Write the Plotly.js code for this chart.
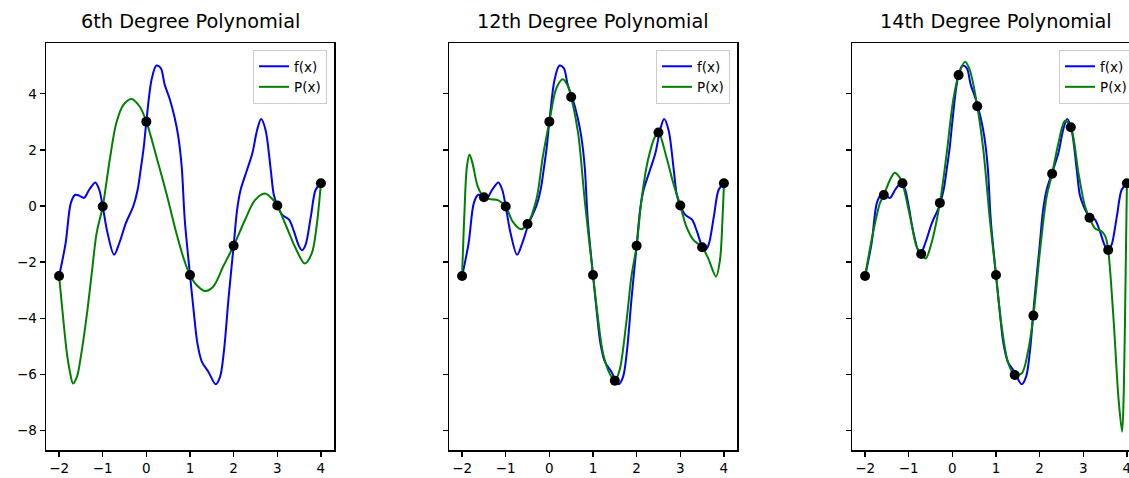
<!DOCTYPE html>
<html>
<head>
<meta charset="utf-8">
<script src="https://cdn.plot.ly/plotly-3.0.1.min.js"></script>
<style>
  html, body { margin: 0; padding: 0; overflow: hidden; background: #fff; }
  #chart { width: 1160px; height: 478px; }
</style>
</head>
<body>
<div id="chart"></div>
<script>
// Target function f(x), sampled along [-2, 4]
const fX = [-2, -1.85, -1.73, -1.63, -1.54, -1.43, -1.31, -1.17, -1.08, -1.0, -0.89, -0.74, -0.62, -0.47, -0.30, -0.20, -0.13, -0.06, 0.0,
            0.12, 0.23, 0.33, 0.42, 0.54, 0.65, 0.73, 0.81, 0.88, 1.0, 1.09, 1.17, 1.27, 1.42, 1.59, 1.69, 1.78, 1.88, 2.0,
            2.08, 2.16, 2.31, 2.43, 2.54, 2.63, 2.73, 2.85, 2.92, 3.0, 3.11, 3.27, 3.38, 3.50, 3.57, 3.65, 3.77, 3.88, 4.0];
const fY = [-2.5, -1.32, 0.11, 0.40, 0.37, 0.29, 0.58, 0.84, 0.58, -0.02, -0.96, -1.74, -1.32, -0.61, -0.01, 0.58, 1.30, 2.1, 3.01,
            4.51, 5.01, 4.92, 4.33, 3.79, 3.14, 2.49, 1.4, -0.49, -2.46, -3.83, -4.90, -5.55, -5.91, -6.36, -6.09, -5.14, -3.35, -1.42,
            -0.13, 0.58, 1.30, 1.89, 2.72, 3.10, 2.72, 1.30, 0.40, 0.02, -0.31, -0.49, -0.90, -1.44, -1.58, -1.38, -0.37, 0.58, 0.81];

// Interpolation nodes for each polynomial
const n6X = [-2, -1, 0, 1, 2, 3, 4];
const n6Y = [-2.5, -0.02, 3.01, -2.46, -1.42, 0.02, 0.81];

const n12X = [-2, -1.5, -1, -0.5, 0, 0.5, 1, 1.5, 2, 2.5, 3, 3.5, 4];
const n12Y = [-2.5, 0.31, -0.02, -0.64, 3.01, 3.89, -2.46, -6.23, -1.42, 2.62, 0.02, -1.47, 0.81];

const n14X = [-2, -1.571, -1.143, -0.714, -0.286, 0.143, 0.571, 1, 1.429, 1.857, 2.286, 2.714, 3.143, 3.571, 4];
const n14Y = [-2.5, 0.39, 0.81, -1.71, 0.11, 4.67, 3.56, -2.46, -6.03, -3.91, 1.15, 2.81, -0.42, -1.57, 0.81];

// Interpolating polynomials P(x)
const p6X = [-2, -1.91, -1.83, -1.76, -1.68, -1.59, -1.49, -1.37, -1.26, -1.14, -1.0, -0.84, -0.69, -0.53, -0.34, -0.15, 0.0,
             0.23, 0.46, 0.69, 0.88, 1.0, 1.15, 1.34, 1.53, 1.76, 2.0, 2.26, 2.49, 2.72, 2.91, 3.0, 3.21, 3.44, 3.63, 3.79, 3.90, 4.0];
const p6Y = [-2.5, -3.95, -5.14, -5.85, -6.33, -6.09, -5.26, -3.95, -2.52, -0.97, -0.02, 1.64, 2.95, 3.60, 3.82, 3.54, 3.01,
             1.76, 0.45, -0.98, -1.99, -2.46, -2.82, -3.03, -2.88, -2.16, -1.42, -0.50, 0.21, 0.45, 0.21, 0.02, -0.74, -1.57, -2.05, -1.69, -0.74, 0.81];

const p12X = [-2, -1.95, -1.89, -1.83, -1.76, -1.64, -1.5, -1.33, -1.18, -1.0, -0.84, -0.65, -0.5, -0.30, -0.15, 0.0, 0.16, 0.31, 0.43, 0.5,
              0.66, 0.81, 1.0, 1.11, 1.23, 1.38, 1.5, 1.61, 1.77, 1.88, 2.0, 2.11, 2.26, 2.42, 2.5, 2.68, 2.84, 3.0, 3.14, 3.30, 3.5,
              3.64, 3.82, 3.91, 3.97, 4.0];
const p12Y = [-2.5, -0.38, 1.40, 1.84, 1.52, 0.69, 0.31, 0.24, 0.21, -0.02, -0.56, -0.83, -0.64, 0.21, 1.76, 3.01, 4.20, 4.52, 4.26, 3.89,
              2.59, 0.21, -2.46, -3.95, -5.26, -5.97, -6.23, -5.85, -4.07, -2.52, -1.42, 0.21, 1.64, 2.47, 2.62, 1.76, 0.81, 0.02, -0.74, -1.21, -1.47,
              -1.87, -2.52, -1.93, -0.38, 0.81];

const p14X = [-2, -1.82, -1.66, -1.571, -1.43, -1.32, -1.22, -1.143, -0.97, -0.82, -0.714, -0.61, -0.48, -0.286, -0.13, 0.02, 0.143,
              0.29, 0.40, 0.571, 0.71, 0.86, 1.0, 1.13, 1.28, 1.429, 1.59, 1.74, 1.857, 2.01, 2.16, 2.286, 2.43, 2.58, 2.714, 2.89,
              3.04, 3.143, 3.27, 3.43, 3.51, 3.571, 3.69, 3.81, 3.89, 3.93, 3.97, 4.0];
const p14Y = [-2.5, -0.97, 0.10, 0.39, 0.93, 1.19, 1.05, 0.81, -0.38, -1.45, -1.71, -1.87, -1.33, 0.11, 1.88, 3.78, 4.67,
              5.15, 4.85, 3.56, 2.0, -0.50, -2.46, -4.30, -5.61, -6.03, -5.97, -5.14, -3.91, -1.57, 0.33, 1.15, 2.24, 3.04, 2.81, 1.17,
              -0.02, -0.42, -0.80, -0.92, -1.1, -1.57, -3.95, -6.92, -8.05, -6.5, -2.5, 0.81];

const titles = ['6th Degree Polynomial', '12th Degree Polynomial', '14th Degree Polynomial'];
const panels = [
  {px: p6X, py: p6Y, nx: n6X, ny: n6Y},
  {px: p12X, py: p12Y, nx: n12X, ny: n12Y},
  {px: p14X, py: p14Y, nx: n14X, ny: n14Y}
];

const W = 1160, H = 478;
const FONT = 'DejaVu Sans, Verdana, sans-serif';
// axes box in pixels: left edges, width, top, bottom
const axLeft = [46, 449, 852], axW = 288, axTop = 43, axBot = 450;

const traces = [];
panels.forEach((p, i) => {
  const sfx = i === 0 ? '' : String(i + 1);
  const xa = 'x' + sfx, ya = 'y' + sfx, lg = 'legend' + sfx;
  traces.push({x: fX, y: fY, xaxis: xa, yaxis: ya, legend: lg, name: 'f(x)', mode: 'lines',
               line: {color: '#0000ff', width: 2, shape: 'spline', smoothing: 0.9}});
  traces.push({x: p.px, y: p.py, xaxis: xa, yaxis: ya, legend: lg, name: 'P(x)', mode: 'lines',
               line: {color: '#008000', width: 2, shape: 'spline', smoothing: 0.9}});
  traces.push({x: p.nx, y: p.ny, xaxis: xa, yaxis: ya, mode: 'markers', showlegend: false,
               marker: {color: '#000000', size: 10}});
});

const layout = {
  width: W, height: H,
  margin: {l: 0, r: 0, t: 0, b: 0},
  paper_bgcolor: '#ffffff', plot_bgcolor: '#ffffff',
  font: {family: FONT, size: 13.5, color: '#000'},
  annotations: [],
  showlegend: true
};

panels.forEach((p, i) => {
  const sfx = i === 0 ? '' : String(i + 1);
  layout['xaxis' + sfx] = {
    domain: [axLeft[i] / W, (axLeft[i] + axW) / W],
    range: [-2.3, 4.3], anchor: 'y' + sfx,
    tickvals: [-2, -1, 0, 1, 2, 3, 4],
    ticks: 'outside', ticklen: 5, tickwidth: 1.2, tickcolor: '#000',
    showline: true, linecolor: '#000', linewidth: 1.5, mirror: true,
    showgrid: false, zeroline: false,
    tickfont: {family: FONT, size: 13.5, color: '#000'}
  };
  layout['yaxis' + sfx] = {
    domain: [1 - axBot / H, 1 - axTop / H],
    range: [-8.705, 5.815], anchor: 'x' + sfx,
    tickvals: [-8, -6, -4, -2, 0, 2, 4],
    showticklabels: i === 0,
    ticks: 'outside', ticklen: 5, tickwidth: 1.2, tickcolor: '#000',
    showline: true, linecolor: '#000', linewidth: 1.5, mirror: true,
    showgrid: false, zeroline: false,
    tickfont: {family: FONT, size: 13.5, color: '#000'}
  };
  layout['legend' + sfx] = {
    x: (axLeft[i] + axW - 7) / W, xanchor: 'right',
    y: 1 - 50 / H, yanchor: 'top',
    bgcolor: 'rgba(255,255,255,0.8)', bordercolor: '#cccccc', borderwidth: 1,
    font: {family: FONT, size: 13.5, color: '#000'},
    itemwidth: 30, tracegroupgap: 0
  };
  layout.annotations.push({
    text: titles[i], xref: 'paper', yref: 'paper',
    x: (axLeft[i] + axW / 2) / W, y: 1 - 22 / H, xanchor: 'center', yanchor: 'middle',
    showarrow: false, font: {family: FONT, size: 19.3, color: '#000'}
  });
});

Plotly.newPlot('chart', traces, layout, {displayModeBar: false, staticPlot: true});
</script>
</body>
</html>
